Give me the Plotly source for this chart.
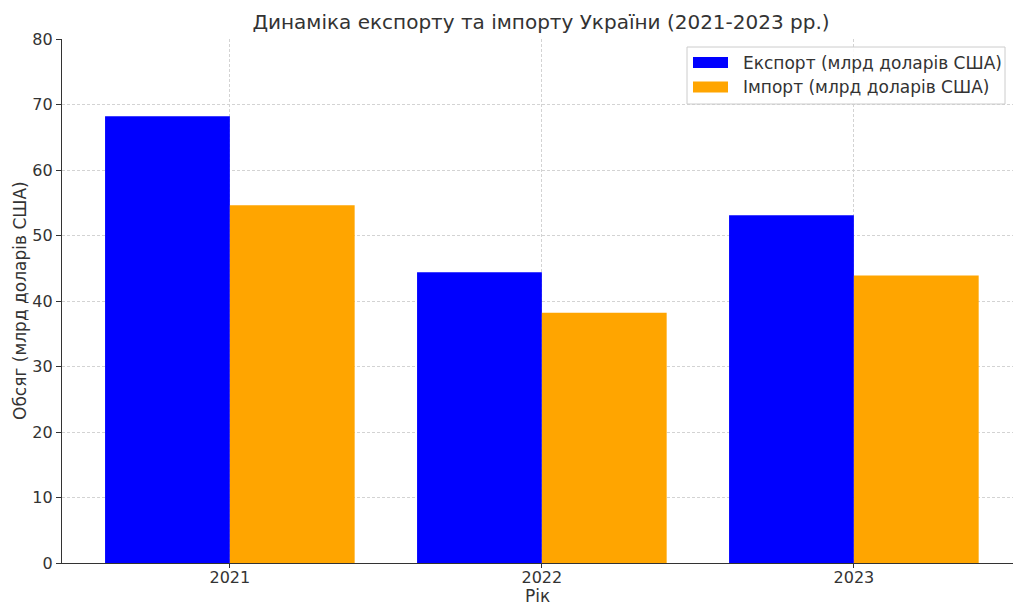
import plotly.graph_objects as go

years = ["2021", "2022", "2023"]
export_bn = [68.2, 44.4, 53.1]
import_bn = [54.6, 38.2, 43.9]
series_names = ["Експорт (млрд доларів США)", "Імпорт (млрд доларів США)"]
series_colors = ["#0000ff", "#ffa500"]

x_pos = list(range(len(years)))
font_family = "DejaVu Sans"
text_color = "#333333"

W, H = 1013, 605
L, R, T, B = 62, 0, 39, 42
plot_w, plot_h = W - L - R, H - T - B


def px_x(px):
    """Pixel x -> paper x."""
    return (px - L) / plot_w


def px_y(py):
    """Pixel y (from top) -> paper y."""
    return 1 - (py - T) / plot_h


fig = go.Figure()
for vals, name, color in zip([export_bn, import_bn], series_names, series_colors):
    fig.add_trace(go.Bar(
        x=x_pos, y=vals, name=name, showlegend=False,
        marker=dict(color=color, line=dict(width=0)),
    ))

# Legend drawn by hand: framed box with wide colour swatches
shapes = [dict(
    type="rect", xref="paper", yref="paper",
    x0=px_x(687), x1=px_x(1005), y0=px_y(104), y1=px_y(47),
    fillcolor="rgba(255,255,255,0.85)", line=dict(color="#cccccc", width=1),
    layer="above",
)]
annotations = []
for i, (name, color) in enumerate(zip(series_names, series_colors)):
    cy = 62.5 + i * 24.5
    shapes.append(dict(
        type="rect", xref="paper", yref="paper",
        x0=px_x(693), x1=px_x(728), y0=px_y(cy + 5.5), y1=px_y(cy - 5.5),
        fillcolor=color, line=dict(width=0), layer="above",
    ))
    annotations.append(dict(
        text=name, xref="paper", yref="paper", x=px_x(741), y=px_y(cy),
        xanchor="left", yanchor="middle", showarrow=False,
        font=dict(size=17, color=text_color),
    ))

# Axis titles
annotations.append(dict(
    text="Рік", xref="paper", yref="paper", x=0.5, y=px_y(596),
    xanchor="center", yanchor="middle", showarrow=False,
    font=dict(size=17, color=text_color),
))
annotations.append(dict(
    text="Обсяг (млрд доларів США)", xref="paper", yref="paper",
    x=px_x(20), y=0.5, textangle=-90,
    xanchor="center", yanchor="middle", showarrow=False,
    font=dict(size=17, color=text_color),
))

fig.update_layout(
    width=W, height=H,
    margin=dict(l=L, r=R, t=T, b=B),
    paper_bgcolor="white", plot_bgcolor="white",
    barmode="group", bargap=0.2, bargroupgap=0,
    font=dict(family=font_family, size=16, color=text_color),
    title=dict(
        text="Динаміка експорту та імпорту України (2021-2023 рр.)",
        x=541 / W, xanchor="center", xref="container",
        y=1 - 22 / H, yanchor="middle", yref="container",
        font=dict(size=20, color=text_color),
    ),
    shapes=shapes,
    annotations=annotations,
    showlegend=False,
)

grid_style = dict(showgrid=True, gridcolor="#d3d3d3", griddash="3px,2px", gridwidth=1)
fig.update_xaxes(
    range=[-0.538, 2.51],
    tickmode="array", tickvals=x_pos, ticktext=years,
    showline=True, linecolor="#333333", linewidth=1.2,
    ticks="outside", ticklen=4, tickcolor="#333333",
    ticklabelstandoff=-4,
    zeroline=False, automargin=False,
    **grid_style,
)
fig.update_yaxes(
    range=[0, 80], tickmode="linear", tick0=0, dtick=10,
    showline=True, linecolor="#333333", linewidth=1.2,
    ticks="outside", ticklen=5, tickcolor="#333333",
    zeroline=False, automargin=False,
    **grid_style,
)

fig.write_html("out.html")
